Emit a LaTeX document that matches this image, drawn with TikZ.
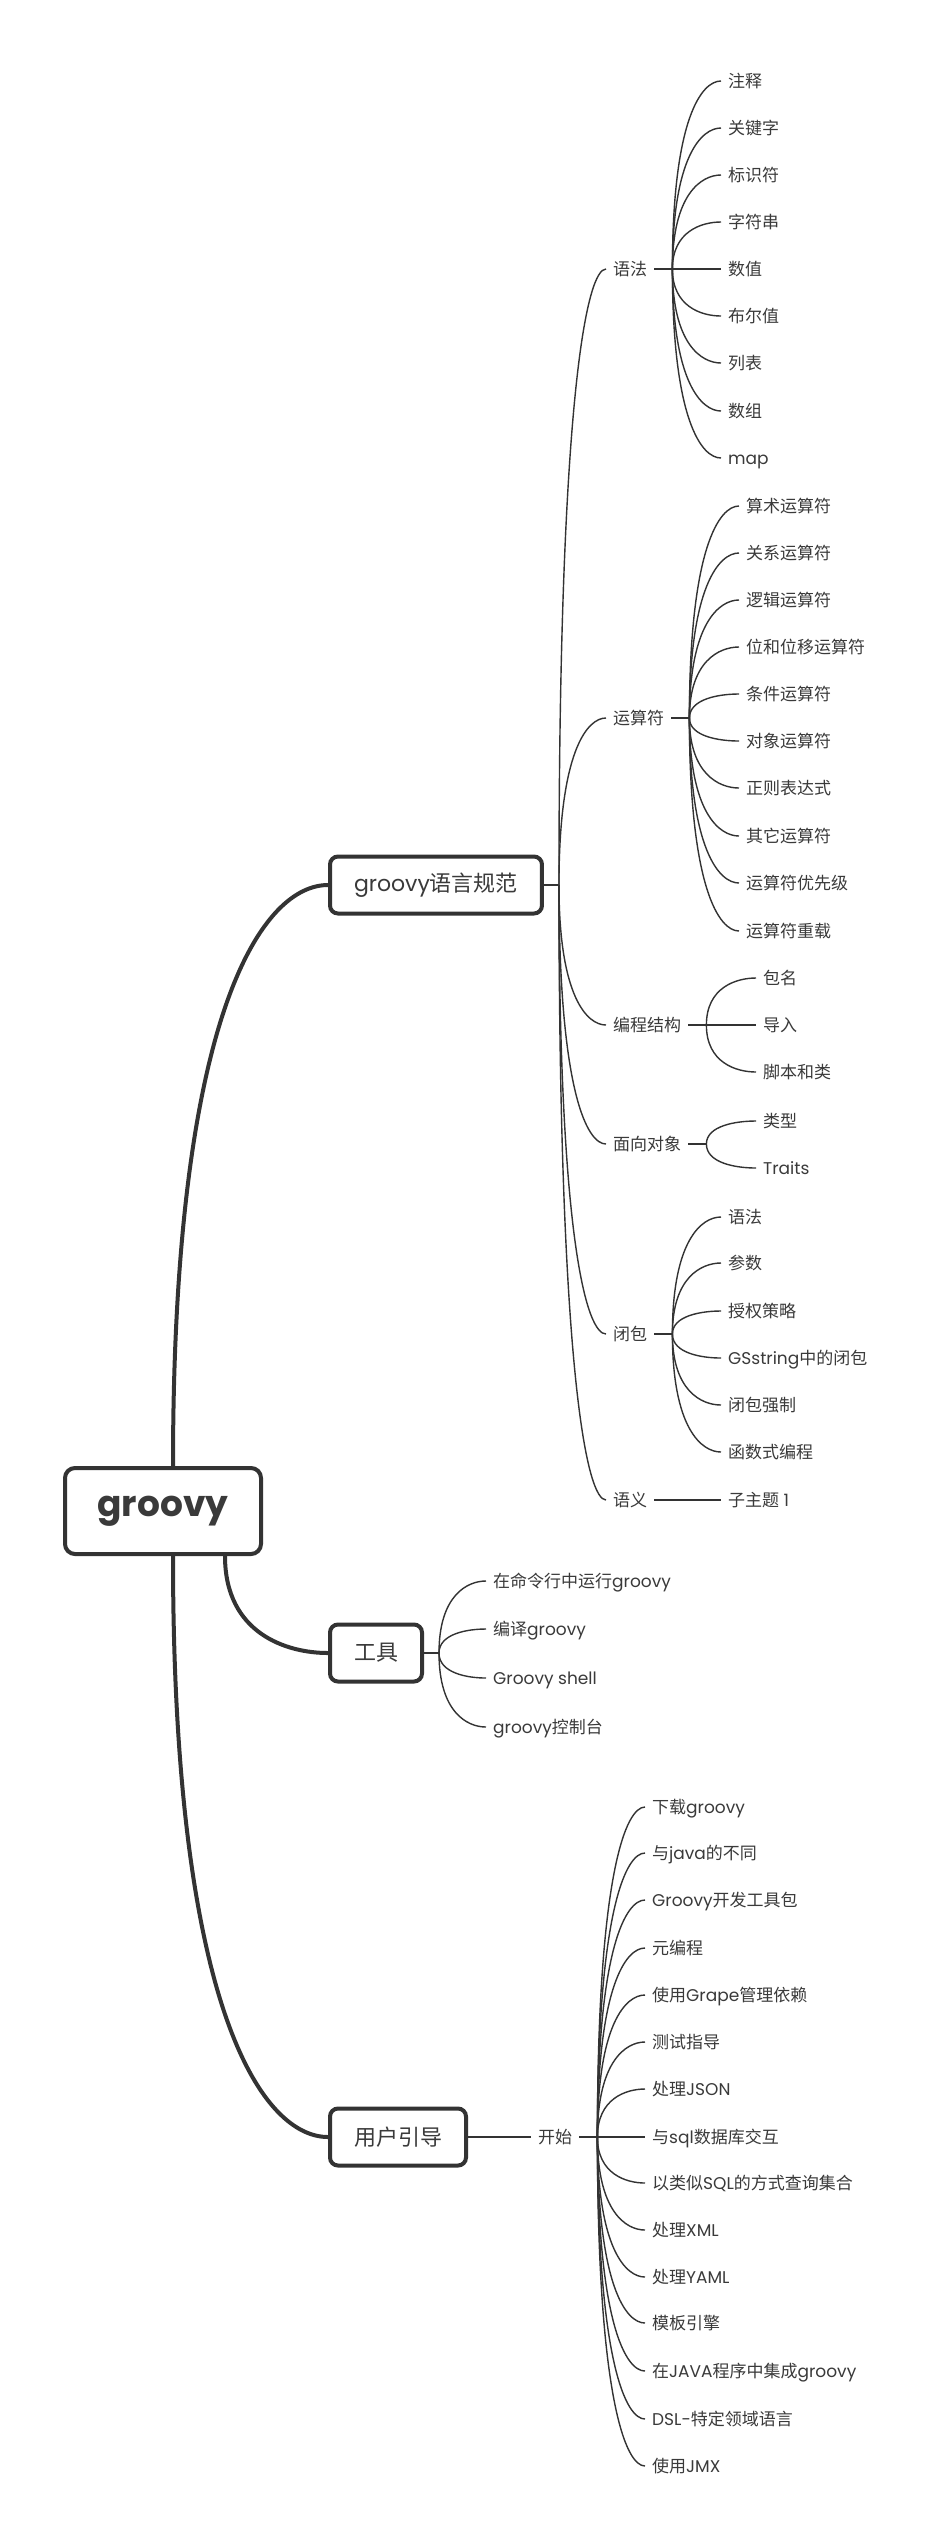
\documentclass[tikz,border=0pt]{standalone}
\usepackage{fontspec}
\setmainfont{Poppins}
\newfontfamily\zhfont{Noto Sans CJK SC}
\usepackage{tikz}
\usetikzlibrary{calc}
\usepackage{xcolor}
\definecolor{mmink}{RGB}{51,51,51}
\definecolor{mmtext}{RGB}{58,58,58}

% Chinese characters in Noto Sans CJK SC, the rest in Poppins
\XeTeXinterchartokenstate=1
\newXeTeXintercharclass\zhclass
\count255="4E00
\loop\ifnum\count255<"A000
  \XeTeXcharclass\count255=\zhclass
  \advance\count255 by 1
\repeat
\XeTeXinterchartoks 0 \zhclass = {\begingroup\zhfont}
\XeTeXinterchartoks 4095 \zhclass = {\begingroup\zhfont}
\XeTeXinterchartoks \zhclass 0 = {\endgroup}
\XeTeXinterchartoks \zhclass 4095 = {\endgroup}

\tikzstyle{hub} = [rectangle, rounded corners=10pt, draw=mmink, line width=4pt, minimum width=196pt, minimum height=86pt, text=mmtext, font=\fontsize{36}{40}\selectfont\bfseries]
\tikzstyle{topic} = [rectangle, rounded corners=8pt, draw=mmink, line width=4pt, minimum height=57pt, inner xsep=24pt, anchor=west, text=mmtext, font=\fontsize{22}{26}\selectfont]
\tikzstyle{subtopic} = [anchor=west, inner xsep=7pt, inner ysep=0pt, text height=15pt, text depth=2pt, text=mmtext, font=\fontsize{17}{20}\selectfont]
\tikzstyle{leaf} = [subtopic]
\tikzstyle{swoop} = [to path={.. controls ($(\tikztostart)!0.8!(\tikztostart |- \tikztotarget)$) and ($(\tikztotarget)!0.4!(\tikztostart |- \tikztotarget)$) .. (\tikztotarget)}]
\tikzstyle{bough} = [swoop, draw=mmink, line width=4pt]
\tikzstyle{twig} = [swoop, draw=mmink, line width=1.4pt]
\tikzstyle{stub} = [draw=mmink, line width=2pt]

\begin{document}
\begin{tikzpicture}[x=1pt, y=-1pt]
    \path[use as bounding box, fill=white] (0,0) rectangle (939,2546);

    % Central node
    \node[hub] (root) at (163,1511) {groovy};
    \coordinate (rtop) at ([xshift=10pt]root.north);
    \coordinate (rbot) at ([xshift=10pt]root.south);
    \coordinate (rside) at ([xshift=62pt]root.south);

    % Main topics
    \node[topic] (spec) at (328,885) {groovy语言规范};
    \node[topic] (tools) at (328,1653) {工具};
    \node[topic] (guide) at (328,2137) {用户引导};
    \coordinate (specj) at ([xshift=15pt]spec.east);
    \coordinate (toolj) at ([xshift=15pt]tools.east);

    % Upper branch - language spec
    \node[subtopic] (syntax) at (606,269) {语法};
    \node[subtopic] (oper) at (606,718) {运算符};
    \node[subtopic] (struct) at (606,1025) {编程结构};
    \node[subtopic] (oop) at (606,1144) {面向对象};
    \node[subtopic] (closure) at (606,1334) {闭包};
    \node[subtopic] (sem) at (606,1500) {语义};
    \coordinate (synj) at ([xshift=18pt]syntax.east);
    \coordinate (operj) at ([xshift=18pt]oper.east);
    \coordinate (structj) at ([xshift=18pt]struct.east);
    \coordinate (oopj) at ([xshift=18pt]oop.east);
    \coordinate (closj) at ([xshift=18pt]closure.east);

    % Syntax
    \node[leaf] (cmt) at (721,81) {注释};
    \node[leaf] (kw) at (721,128) {关键字};
    \node[leaf] (ident) at (721,175) {标识符};
    \node[leaf] (str) at (721,222) {字符串};
    \node[leaf] (num) at (721,269) {数值};
    \node[leaf] (bool) at (721,316) {布尔值};
    \node[leaf] (list) at (721,363) {列表};
    \node[leaf] (arr) at (721,411) {数组};
    \node[leaf] (map) at (721,458) {map};

    % Operators
    \node[leaf] (arith) at (739,506) {算术运算符};
    \node[leaf] (rel) at (739,553) {关系运算符};
    \node[leaf] (logic) at (739,600) {逻辑运算符};
    \node[leaf] (bit) at (739,647) {位和位移运算符};
    \node[leaf] (cond) at (739,694) {条件运算符};
    \node[leaf] (obj) at (739,741) {对象运算符};
    \node[leaf] (regex) at (739,788) {正则表达式};
    \node[leaf] (other) at (739,836) {其它运算符};
    \node[leaf] (prec) at (739,883) {运算符优先级};
    \node[leaf] (overl) at (739,931) {运算符重载};

    % Program structure, object orientation
    \node[leaf] (pkg) at (756,978) {包名};
    \node[leaf] (imp) at (756,1025) {导入};
    \node[leaf] (script) at (756,1072) {脚本和类};
    \node[leaf] (types) at (756,1121) {类型};
    \node[leaf] (traits) at (756,1168) {Traits};

    % Closures, semantics
    \node[leaf] (csyn) at (721,1217) {语法};
    \node[leaf] (cpar) at (721,1263) {参数};
    \node[leaf] (deleg) at (721,1311) {授权策略};
    \node[leaf] (gstr) at (721,1358) {GSstring中的闭包};
    \node[leaf] (coerc) at (721,1405) {闭包强制};
    \node[leaf] (func) at (721,1452) {函数式编程};
    \node[leaf] (subt) at (721,1500) {子主题 1};

    % Middle branch - tools
    \node[leaf] (cmdl) at (486,1581) {在命令行中运行groovy};
    \node[leaf] (comp) at (486,1629) {编译groovy};
    \node[leaf] (shell) at (486,1678) {Groovy shell};
    \node[leaf] (console) at (486,1727) {groovy控制台};

    % Lower branch - user guide
    \node[subtopic] (start) at (531,2137) {开始};
    \coordinate (startj) at ([xshift=18pt]start.east);
    \node[leaf] (dl) at (645,1807) {下载groovy};
    \node[leaf] (diff) at (645,1853) {与java的不同};
    \node[leaf] (gdk) at (645,1900) {Groovy开发工具包};
    \node[leaf] (meta) at (645,1948) {元编程};
    \node[leaf] (grape) at (645,1995) {使用Grape管理依赖};
    \node[leaf] (test) at (645,2042) {测试指导};
    \node[leaf] (json) at (645,2089) {处理JSON};
    \node[leaf] (sql) at (645,2137) {与sql数据库交互};
    \node[leaf] (query) at (645,2183) {以类似SQL的方式查询集合};
    \node[leaf] (xml) at (645,2230) {处理XML};
    \node[leaf] (yaml) at (645,2277) {处理YAML};
    \node[leaf] (tmpl) at (645,2323) {模板引擎};
    \node[leaf] (integ) at (645,2371) {在JAVA程序中集成groovy};
    \node[leaf] (dsl) at (645,2419) {DSL-特定领域语言};
    \node[leaf] (jmx) at (645,2466) {使用JMX};

    % Connections
    \draw[bough] (rtop) to (spec.west);
    \draw[bough] (rside) to (tools.west);
    \draw[bough] (rbot) to (guide.west);
    \draw[stub] (spec) -- (specj);
    \draw[stub] (tools) -- (toolj);
    \draw[twig] (guide) -- (start);
    \draw[stub] (start) -- (startj);
    \draw[stub] (syntax) -- (synj);
    \draw[stub] (oper) -- (operj);
    \draw[stub] (struct) -- (structj);
    \draw[stub] (oop) -- (oopj);
    \draw[stub] (closure) -- (closj);
    \draw[twig] (sem) -- (subt);
    \foreach \n in {syntax,oper,struct,oop,closure,sem}
        \draw[twig] (specj) to (\n.west);
    \foreach \n in {cmt,kw,ident,str,num,bool,list,arr,map}
        \draw[twig] (synj) to (\n.west);
    \foreach \n in {arith,rel,logic,bit,cond,obj,regex,other,prec,overl}
        \draw[twig] (operj) to (\n.west);
    \foreach \n in {pkg,imp,script}
        \draw[twig] (structj) to (\n.west);
    \foreach \n in {types,traits}
        \draw[twig] (oopj) to (\n.west);
    \foreach \n in {csyn,cpar,deleg,gstr,coerc,func}
        \draw[twig] (closj) to (\n.west);
    \foreach \n in {cmdl,comp,shell,console}
        \draw[twig] (toolj) to (\n.west);
    \foreach \n in {dl,diff,gdk,meta,grape,test,json,sql,query,xml,yaml,tmpl,integ,dsl,jmx}
        \draw[twig] (startj) to (\n.west);
\end{tikzpicture}
\end{document}
